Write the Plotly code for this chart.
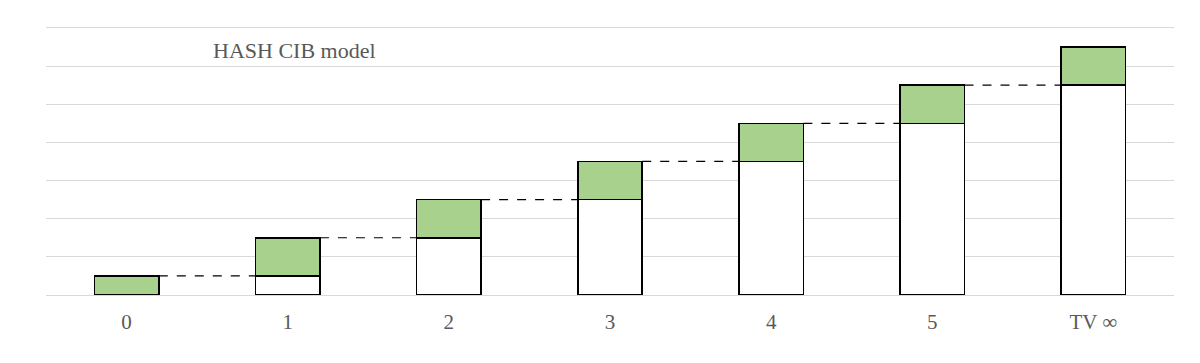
import plotly.graph_objects as go

categories = ["0", "1", "2", "3", "4", "5", "TV ∞"]
base_values = [0, 0.5, 1.5, 2.5, 3.5, 4.5, 5.5]
increments = [0.5, 1, 1, 1, 1, 1, 1]

x = list(range(len(categories)))
bar_w = 0.4
tops = [b + d for b, d in zip(base_values, increments)]

SERIF = "Liberation Serif, Times New Roman, DejaVu Serif, serif"

fig = go.Figure()
fig.add_trace(go.Bar(x=x, y=base_values, width=bar_w, marker=dict(color="white", line=dict(color="black", width=1.5)), showlegend=False, hoverinfo="skip"))
fig.add_trace(go.Bar(x=x, y=increments, width=bar_w, marker=dict(color="#a9d18e", line=dict(color="black", width=1.5)), showlegend=False))

for i in range(len(categories) - 1):
    fig.add_trace(go.Scatter(x=[x[i] + bar_w / 2, x[i + 1] - bar_w / 2], y=[tops[i], tops[i]], mode="lines",
                             line=dict(color="black", width=1.2, dash="dash"), showlegend=False, hoverinfo="skip"))

fig.add_annotation(text="HASH CIB model", xref="paper", yref="paper", x=0.146, y=0.91, xanchor="left", yanchor="middle",
                   showarrow=False, font=dict(family=SERIF, size=22, color="#595959"))

fig.update_layout(
    barmode="stack",
    width=1192, height=355,
    margin=dict(l=38, r=26, t=18, b=68),
    plot_bgcolor="white", paper_bgcolor="white",
    font=dict(family=SERIF, size=21, color="#595959"),
    bargap=0.6,
)
fig.update_xaxes(range=[-0.5, 6.5], tickvals=x, ticktext=categories, showgrid=False, zeroline=False,
                 showline=True, linecolor="#d9d9d9", linewidth=1.3, ticks="", ticklabelstandoff=8)
fig.update_yaxes(range=[0, 7.05], dtick=1, showgrid=True, gridcolor="#d9d9d9", gridwidth=1.3, zeroline=False,
                 showticklabels=False, showline=False)

fig.write_html("out.html")
